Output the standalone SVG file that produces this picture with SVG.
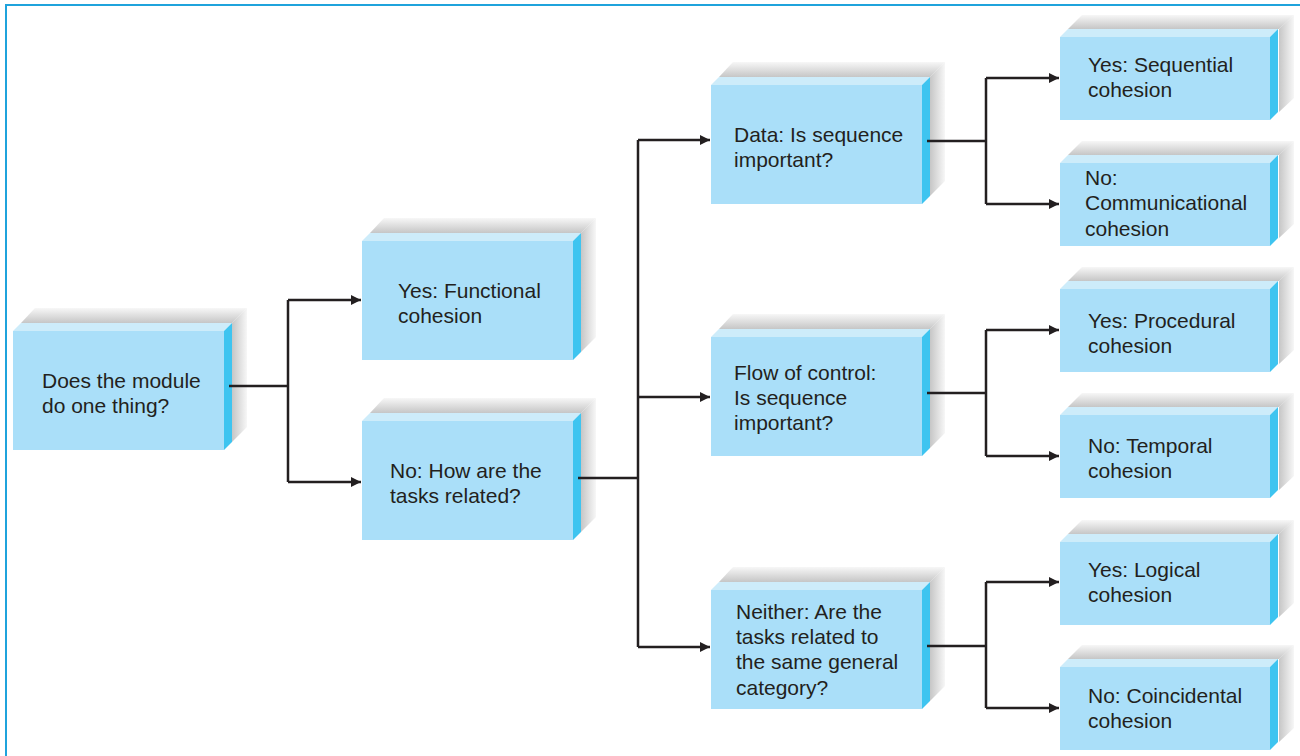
<svg xmlns="http://www.w3.org/2000/svg" xmlns:xlink="http://www.w3.org/1999/xlink" width="1300" height="756" viewBox="0 0 1300 756">
<style>
.front{fill:#aadff9}
.top{fill:#cdecfa}
.side{fill:#3ec4f0}
.lbl{font-family:"Liberation Sans",Arial,sans-serif;font-size:21px;fill:#231f20}
.wire{fill:none;stroke:#231f20;stroke-width:2.5}
.frame{fill:none;stroke:#1fa3dc;stroke-width:2}
</style>
<defs>
<linearGradient id="gv" x1="0" y1="0" x2="0" y2="1">
<stop offset="0" stop-color="#f7f7f7"/>
<stop offset="1" stop-color="#c6c6c6"/>
</linearGradient>
<linearGradient id="gh" x1="0" y1="0" x2="1" y2="0">
<stop offset="0" stop-color="#c6c6c6"/>
<stop offset="1" stop-color="#f7f7f7"/>
</linearGradient>
<marker id="arr" viewBox="0 0 10 10" refX="10" refY="5" markerWidth="4.2" markerHeight="4.2" orient="auto" markerUnits="strokeWidth">
<path d="M0,0 L10,5 L0,10 z" fill="#231f20"/>
</marker>
<g id="big">
<polygon points="8,-8 22,-23 234,-23 219,-8" fill="url(#gv)"/>
<polygon points="219,-8 234,-23 234,96 219,111" fill="url(#gh)"/>
<rect class="front" x="0" y="0" width="211" height="119"/>
<polygon class="top" points="0,0 8,-8 219,-8 211,0"/>
<polygon class="side" points="211,0 219,-8 219,111 211,119"/>
</g>
<g id="small">
<polygon points="8,-8 22,-22 234,-22 219,-8" fill="url(#gv)"/>
<polygon points="219,-8 234,-22 234,61 219,75" fill="url(#gh)"/>
<rect class="front" x="0" y="0" width="210" height="83"/>
<polygon class="top" points="0,0 8,-8 218,-8 210,0"/>
<polygon class="side" points="210,0 218,-8 218,75 210,83"/>
</g>
</defs>
<rect width="1300" height="756" fill="#ffffff"/>
<path class="frame" d="M6,756 V5 H1300"/>

<g id="n1"><use xlink:href="#big" href="#big" transform="translate(13,331)"/>
<text class="lbl" x="42" y="388">Does the module</text><text class="lbl" x="42" y="413">do one thing?</text></g>
<g id="n2"><use xlink:href="#big" href="#big" transform="translate(362,241)"/>
<text class="lbl" x="398" y="298">Yes: Functional</text><text class="lbl" x="398" y="323">cohesion</text></g>
<g id="n3"><use xlink:href="#big" href="#big" transform="translate(362,421)"/>
<text class="lbl" x="390" y="478">No: How are the</text><text class="lbl" x="390" y="503">tasks related?</text></g>
<g id="n4"><use xlink:href="#big" href="#big" transform="translate(711,85)"/>
<text class="lbl" x="734" y="142">Data: Is sequence</text><text class="lbl" x="734" y="167">important?</text></g>
<g id="n5"><use xlink:href="#big" href="#big" transform="translate(711,337)"/>
<text class="lbl" x="734" y="380">Flow of control:</text><text class="lbl" x="734" y="405">Is sequence</text><text class="lbl" x="734" y="430">important?</text></g>
<g id="n6"><use xlink:href="#big" href="#big" transform="translate(711,590)"/>
<text class="lbl" x="736" y="619">Neither: Are the</text><text class="lbl" x="736" y="644">tasks related to</text><text class="lbl" x="736" y="669">the same general</text><text class="lbl" x="736" y="695">category?</text></g>
<g id="n7"><use xlink:href="#small" href="#small" transform="translate(1060,37)"/>
<text class="lbl" x="1088" y="72">Yes: Sequential</text><text class="lbl" x="1088" y="97">cohesion</text></g>
<g id="n8"><use xlink:href="#small" href="#small" transform="translate(1060,163)"/>
<text class="lbl" x="1085" y="185">No:</text><text class="lbl" x="1085" y="210">Communicational</text><text class="lbl" x="1085" y="236">cohesion</text></g>
<g id="n9"><use xlink:href="#small" href="#small" transform="translate(1060,289)"/>
<text class="lbl" x="1088" y="328">Yes: Procedural</text><text class="lbl" x="1088" y="353">cohesion</text></g>
<g id="n10"><use xlink:href="#small" href="#small" transform="translate(1060,415)"/>
<text class="lbl" x="1088" y="453">No: Temporal</text><text class="lbl" x="1088" y="478">cohesion</text></g>
<g id="n11"><use xlink:href="#small" href="#small" transform="translate(1060,542)"/>
<text class="lbl" x="1088" y="577">Yes: Logical</text><text class="lbl" x="1088" y="602">cohesion</text></g>
<g id="n12"><use xlink:href="#small" href="#small" transform="translate(1060,667)"/>
<text class="lbl" x="1088" y="703">No: Coincidental</text><text class="lbl" x="1088" y="728">cohesion</text></g>

<g id="connectors">
<path class="wire" d="M229,386 H288 M288,300 V482"/>
<path class="wire" d="M288,300 H361" marker-end="url(#arr)"/>
<path class="wire" d="M288,482 H361" marker-end="url(#arr)"/>
<path class="wire" d="M578,478 H638 M638,140 V647"/>
<path class="wire" d="M638,140 H710" marker-end="url(#arr)"/>
<path class="wire" d="M638,397 H710" marker-end="url(#arr)"/>
<path class="wire" d="M638,647 H710" marker-end="url(#arr)"/>
<path class="wire" d="M927,141 H986 M986,78 V204"/>
<path class="wire" d="M986,78 H1059" marker-end="url(#arr)"/>
<path class="wire" d="M986,204 H1059" marker-end="url(#arr)"/>
<path class="wire" d="M927,393 H986 M986,330 V456"/>
<path class="wire" d="M986,330 H1059" marker-end="url(#arr)"/>
<path class="wire" d="M986,456 H1059" marker-end="url(#arr)"/>
<path class="wire" d="M927,646 H986 M986,582 V708"/>
<path class="wire" d="M986,582 H1059" marker-end="url(#arr)"/>
<path class="wire" d="M986,708 H1059" marker-end="url(#arr)"/>
</g>
</svg>
